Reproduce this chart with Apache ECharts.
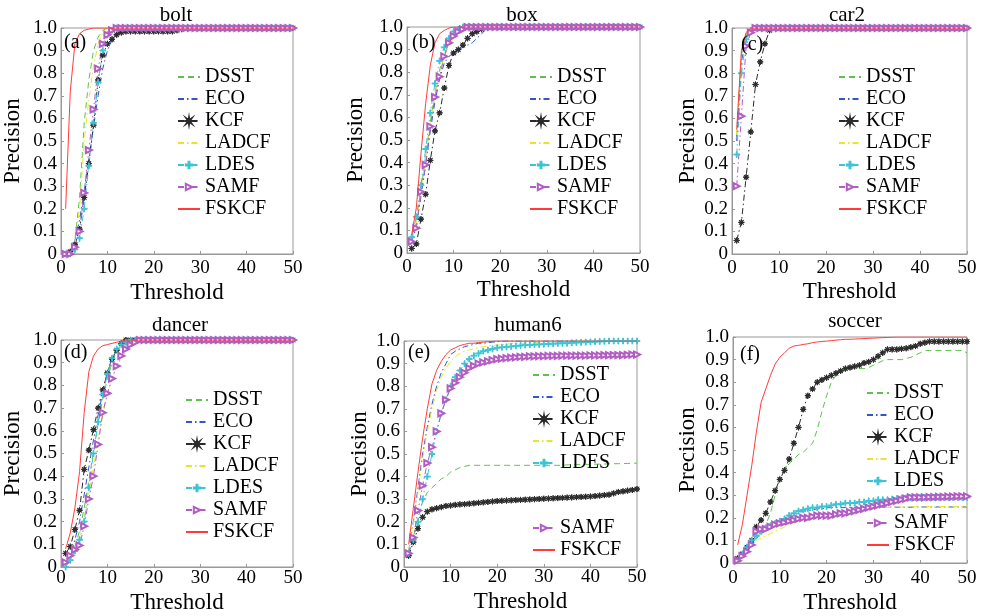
<!DOCTYPE html>
<html>
<head>
<meta charset="utf-8">
<script src="https://cdn.jsdelivr.net/npm/echarts@6/dist/echarts.min.js"></script>
<style>
  html, body { margin: 0; padding: 0; background: #fff; }
  #main { width: 984px; height: 616px; }
</style>
</head>
<body>
<div id="main"></div>
<script>
// location error threshold (pixels)
var thresholds = [1,2,3,4,5,6,7,8,9,10,11,12,13,14,15,16,17,18,19,20,21,22,23,24,25,26,27,28,29,30,31,32,33,34,35,36,37,38,39,40,41,42,43,44,45,46,47,48,49,50];
var names = ['DSST', 'ECO', 'KCF', 'LADCF', 'LDES', 'SAMF', 'FSKCF'];
var titles = ['bolt', 'box', 'car2', 'dancer', 'human6', 'soccer'];
var tags = ['(a)', '(b)', '(c)', '(d)', '(e)', '(f)'];

// ---- bolt ----
var boltDSST = [0,0.01,0.06,0.25,0.58,0.77,0.9,0.96,0.99,1, 1,1,1,1,1,1,1,1,1,1, 1,1,1,1,1,1,1,1,1,1, 1,1,1,1,1,1,1,1,1,1, 1,1,1,1,1,1,1,1,1,1];
var boltECO = [0,0.02,0.06,0.15,0.28,0.42,0.56,0.7,0.82,0.9, 0.95,0.98,0.99,1,1,1,1,1,1,1, 1,1,1,1,1,1,1,1,1,1, 1,1,1,1,1,1,1,1,1,1, 1,1,1,1,1,1,1,1,1,1];
var boltKCF = [0,0.01,0.04,0.11,0.25,0.4,0.57,0.77,0.88,0.93, 0.95,0.97,0.98,0.985,0.985,0.985,0.985,0.985,0.985,0.985, 0.985,0.985,0.985,0.985,0.99,0.995,1,1,1,1, 1,1,1,1,1,1,1,1,1,1, 1,1,1,1,1,1,1,1,1,1];
var boltLADCF = [0,0.01,0.05,0.2,0.5,0.68,0.83,0.93,0.98,1, 1,1,1,1,1,1,1,1,1,1, 1,1,1,1,1,1,1,1,1,1, 1,1,1,1,1,1,1,1,1,1, 1,1,1,1,1,1,1,1,1,1];
var boltLDES = [0,0,0.02,0.07,0.2,0.39,0.58,0.76,0.9,0.97, 0.99,1,1,1,1,1,1,1,1,1, 1,1,1,1,1,1,1,1,1,1, 1,1,1,1,1,1,1,1,1,1, 1,1,1,1,1,1,1,1,1,1];
var boltSAMF = [0,0,0.03,0.1,0.27,0.46,0.64,0.82,0.93,0.97, 0.99,1,1,1,1,1,1,1,1,1, 1,1,1,1,1,1,1,1,1,1, 1,1,1,1,1,1,1,1,1,1, 1,1,1,1,1,1,1,1,1,1];
var boltFSKCF = [0.2,0.72,0.93,0.975,0.99,0.995,1,1,1,1, 1,1,1,1,1,1,1,1,1,1, 1,1,1,1,1,1,1,1,1,1, 1,1,1,1,1,1,1,1,1,1, 1,1,1,1,1,1,1,1,1,1];

// ---- box ----
var boxDSST = [0.06,0.14,0.28,0.43,0.58,0.71,0.81,0.88,0.93,0.96, 0.98,0.99,1,1,1,1,1,1,1,1, 1,1,1,1,1,1,1,1,1,1, 1,1,1,1,1,1,1,1,1,1, 1,1,1,1,1,1,1,1,1,1];
var boxECO = [0.05,0.12,0.25,0.39,0.54,0.67,0.77,0.84,0.87,0.885, 0.9,0.91,0.92,0.93,0.95,0.97,0.99,1,1,1, 1,1,1,1,1,1,1,1,1,1, 1,1,1,1,1,1,1,1,1,1, 1,1,1,1,1,1,1,1,1,1];
var boxKCF = [0.02,0.04,0.15,0.26,0.41,0.54,0.62,0.73,0.83,0.885, 0.9,0.92,0.95,0.97,0.98,0.99,1,1,1,1, 1,1,1,1,1,1,1,1,1,1, 1,1,1,1,1,1,1,1,1,1, 1,1,1,1,1,1,1,1,1,1];
var boxLADCF = [0.06,0.13,0.27,0.42,0.57,0.7,0.8,0.87,0.92,0.95, 0.97,0.98,0.99,1,1,1,1,1,1,1, 1,1,1,1,1,1,1,1,1,1, 1,1,1,1,1,1,1,1,1,1, 1,1,1,1,1,1,1,1,1,1];
var boxLDES = [0.07,0.16,0.3,0.46,0.62,0.75,0.85,0.91,0.95,0.98, 0.99,1,1,1,1,1,1,1,1,1, 1,1,1,1,1,1,1,1,1,1, 1,1,1,1,1,1,1,1,1,1, 1,1,1,1,1,1,1,1,1,1];
var boxSAMF = [0.05,0.11,0.27,0.39,0.56,0.69,0.78,0.87,0.93,0.96, 0.98,0.99,1,1,1,1,1,1,1,1, 1,1,1,1,1,1,1,1,1,1, 1,1,1,1,1,1,1,1,1,1, 1,1,1,1,1,1,1,1,1,1];
var boxFSKCF = [0.08,0.2,0.44,0.66,0.83,0.93,0.97,0.985,0.995,1, 1,1,1,1,1,1,1,1,1,1, 1,1,1,1,1,1,1,1,1,1, 1,1,1,1,1,1,1,1,1,1, 1,1,1,1,1,1,1,1,1,1];

// ---- car2 ----
var carDSST = [0.52,0.88,0.97,1,1,1,1,1,1,1, 1,1,1,1,1,1,1,1,1,1, 1,1,1,1,1,1,1,1,1,1, 1,1,1,1,1,1,1,1,1,1, 1,1,1,1,1,1,1,1,1,1];
var carECO = [0.5,0.85,0.96,0.99,1,1,1,1,1,1, 1,1,1,1,1,1,1,1,1,1, 1,1,1,1,1,1,1,1,1,1, 1,1,1,1,1,1,1,1,1,1, 1,1,1,1,1,1,1,1,1,1];
var carKCF = [0.06,0.14,0.34,0.54,0.75,0.85,0.93,0.99,1,1, 1,1,1,1,1,1,1,1,1,1, 1,1,1,1,1,1,1,1,1,1, 1,1,1,1,1,1,1,1,1,1, 1,1,1,1,1,1,1,1,1,1];
var carLADCF = [0.53,0.89,0.97,1,1,1,1,1,1,1, 1,1,1,1,1,1,1,1,1,1, 1,1,1,1,1,1,1,1,1,1, 1,1,1,1,1,1,1,1,1,1, 1,1,1,1,1,1,1,1,1,1];
var carLDES = [0.44,0.8,0.95,0.99,1,1,1,1,1,1, 1,1,1,1,1,1,1,1,1,1, 1,1,1,1,1,1,1,1,1,1, 1,1,1,1,1,1,1,1,1,1, 1,1,1,1,1,1,1,1,1,1];
var carSAMF = [0.3,0.61,0.92,0.98,1,1,1,1,1,1, 1,1,1,1,1,1,1,1,1,1, 1,1,1,1,1,1,1,1,1,1, 1,1,1,1,1,1,1,1,1,1, 1,1,1,1,1,1,1,1,1,1];
var carFSKCF = [0.55,0.9,0.98,1,1,1,1,1,1,1, 1,1,1,1,1,1,1,1,1,1, 1,1,1,1,1,1,1,1,1,1, 1,1,1,1,1,1,1,1,1,1, 1,1,1,1,1,1,1,1,1,1];

// ---- dancer ----
var danDSST = [0.01,0.04,0.09,0.16,0.26,0.38,0.51,0.63,0.74,0.83, 0.9,0.95,0.98,0.99,1,1,1,1,1,1, 1,1,1,1,1,1,1,1,1,1, 1,1,1,1,1,1,1,1,1,1, 1,1,1,1,1,1,1,1,1,1];
var danECO = [0.02,0.05,0.12,0.2,0.32,0.44,0.56,0.67,0.77,0.86, 0.92,0.96,0.98,0.99,1,1,1,1,1,1, 1,1,1,1,1,1,1,1,1,1, 1,1,1,1,1,1,1,1,1,1, 1,1,1,1,1,1,1,1,1,1];
var danKCF = [0.06,0.09,0.165,0.25,0.43,0.515,0.605,0.7,0.78,0.855, 0.915,0.955,0.985,1,1,1,1,1,1,1, 1,1,1,1,1,1,1,1,1,1, 1,1,1,1,1,1,1,1,1,1, 1,1,1,1,1,1,1,1,1,1];
var danLADCF = [0.01,0.03,0.07,0.13,0.22,0.32,0.44,0.56,0.67,0.76, 0.83,0.88,0.92,0.95,0.97,0.98,0.99,1,1,1, 1,1,1,1,1,1,1,1,1,1, 1,1,1,1,1,1,1,1,1,1, 1,1,1,1,1,1,1,1,1,1];
var danLDES = [0,0.03,0.07,0.12,0.2,0.35,0.5,0.64,0.76,0.85, 0.92,0.96,0.98,0.99,1,1,1,1,1,1, 1,1,1,1,1,1,1,1,1,1, 1,1,1,1,1,1,1,1,1,1, 1,1,1,1,1,1,1,1,1,1];
var danSAMF = [0.02,0.05,0.077,0.095,0.18,0.3,0.4,0.54,0.68,0.765, 0.83,0.885,0.93,0.96,0.98,0.99,1,1,1,1, 1,1,1,1,1,1,1,1,1,1, 1,1,1,1,1,1,1,1,1,1, 1,1,1,1,1,1,1,1,1,1];
var danFSKCF = [0.08,0.15,0.26,0.42,0.68,0.86,0.93,0.96,0.975,0.98, 0.985,0.99,0.995,1,1,1,1,1,1,1, 1,1,1,1,1,1,1,1,1,1, 1,1,1,1,1,1,1,1,1,1, 1,1,1,1,1,1,1,1,1,1];

// ---- human6 ----
var humDSST = [0.06,0.13,0.22,0.29,0.33,0.35,0.37,0.39,0.4,0.42, 0.43,0.44,0.445,0.45,0.45,0.45,0.45,0.45,0.45,0.45, 0.45,0.45,0.45,0.45,0.45,0.45,0.45,0.45,0.45,0.45, 0.45,0.45,0.45,0.45,0.452,0.452,0.453,0.453,0.454,0.454, 0.455,0.455,0.456,0.456,0.457,0.457,0.458,0.458,0.459,0.46];
var humECO = [0.07,0.2,0.35,0.5,0.62,0.72,0.8,0.86,0.9,0.94, 0.955,0.965,0.975,0.98,0.985,0.99,0.99,0.993,0.995,0.997, 1,1,1,1,1,1,1,1,1,1, 1,1,1,1,1,1,1,1,1,1, 1,1,1,1,1,1,1,1,1,1];
var humKCF = [0.05,0.11,0.17,0.22,0.245,0.255,0.26,0.265,0.27,0.272, 0.275,0.277,0.278,0.28,0.282,0.284,0.286,0.288,0.29,0.292, 0.293,0.294,0.295,0.296,0.297,0.298,0.299,0.3,0.301,0.302, 0.303,0.304,0.305,0.306,0.307,0.308,0.309,0.31,0.311,0.312, 0.314,0.316,0.318,0.32,0.326,0.332,0.335,0.338,0.341,0.345];
var humLADCF = [0.07,0.19,0.33,0.48,0.6,0.7,0.78,0.84,0.88,0.91, 0.93,0.945,0.955,0.96,0.965,0.97,0.975,0.978,0.98,0.982, 0.984,0.986,0.988,0.99,0.99,0.99,0.992,0.993,0.994,0.995, 0.996,0.997,0.998,0.999,1,1,1,1,1,1, 1,1,1,1,1,1,1,1,1,1];
var humLDES = [0.06,0.12,0.2,0.3,0.4,0.5,0.6,0.68,0.74,0.8, 0.84,0.87,0.9,0.92,0.935,0.945,0.955,0.96,0.965,0.97, 0.972,0.974,0.976,0.978,0.98,0.982,0.983,0.984,0.985,0.986, 0.987,0.988,0.989,0.99,0.99,0.992,0.993,0.994,0.995,0.996, 0.997,0.998,0.999,1,1,1,1,1,1,1];
var humSAMF = [0.06,0.13,0.25,0.36,0.46,0.53,0.6,0.68,0.74,0.79, 0.815,0.84,0.86,0.88,0.89,0.9,0.905,0.91,0.915,0.92, 0.922,0.924,0.926,0.928,0.93,0.93,0.932,0.932,0.933,0.933, 0.934,0.934,0.934,0.935,0.935,0.935,0.935,0.935,0.935,0.936, 0.936,0.936,0.937,0.937,0.938,0.938,0.938,0.939,0.94,0.94];
var humFSKCF = [0.1,0.26,0.42,0.57,0.7,0.81,0.87,0.91,0.94,0.96, 0.97,0.98,0.985,0.99,0.99,0.993,0.995,0.997,0.998,1, 1,1,1,1,1,1,1,1,1,1, 1,1,1,1,1,1,1,1,1,1, 1,1,1,1,1,1,1,1,1,1];

// ---- soccer ----
var socDSST = [0.01,0.03,0.06,0.09,0.11,0.14,0.17,0.22,0.3,0.37, 0.41,0.44,0.46,0.48,0.49,0.51,0.53,0.59,0.67,0.74, 0.8,0.83,0.845,0.855,0.86,0.86,0.86,0.86,0.865,0.875, 0.885,0.895,0.9,0.9,0.9,0.9,0.905,0.91,0.92,0.93, 0.94,0.94,0.94,0.94,0.94,0.94,0.94,0.94,0.94,0.93];
var socECO = [0.01,0.03,0.06,0.09,0.11,0.13,0.145,0.16,0.17,0.18, 0.19,0.2,0.21,0.22,0.23,0.23,0.235,0.24,0.24,0.245, 0.245,0.245,0.245,0.245,0.245,0.245,0.245,0.245,0.247,0.247, 0.247,0.247,0.247,0.247,0.247,0.247,0.247,0.247,0.248,0.248, 0.248,0.248,0.248,0.248,0.248,0.248,0.248,0.248,0.248,0.248];
var socKCF = [0.02,0.04,0.07,0.1,0.16,0.19,0.22,0.27,0.32,0.37, 0.41,0.46,0.53,0.6,0.68,0.74,0.77,0.8,0.81,0.82, 0.83,0.84,0.85,0.86,0.865,0.87,0.875,0.885,0.89,0.9, 0.915,0.93,0.945,0.945,0.945,0.948,0.95,0.955,0.96,0.97, 0.975,0.98,0.98,0.98,0.98,0.98,0.98,0.98,0.98,0.98];
var socLADCF = [0.01,0.03,0.05,0.08,0.1,0.11,0.12,0.13,0.14,0.15, 0.16,0.17,0.18,0.185,0.19,0.195,0.2,0.205,0.21,0.215, 0.217,0.22,0.222,0.225,0.23,0.232,0.235,0.24,0.242,0.245, 0.245,0.246,0.246,0.247,0.247,0.248,0.248,0.248,0.249,0.249, 0.249,0.25,0.25,0.25,0.25,0.25,0.25,0.25,0.25,0.25];
var socLDES = [0.01,0.04,0.07,0.1,0.12,0.14,0.155,0.165,0.175,0.185, 0.195,0.21,0.22,0.23,0.235,0.24,0.245,0.245,0.25,0.25, 0.255,0.26,0.26,0.265,0.265,0.265,0.27,0.27,0.275,0.275, 0.28,0.28,0.28,0.283,0.285,0.287,0.288,0.289,0.29,0.29, 0.29,0.29,0.29,0.29,0.29,0.29,0.29,0.29,0.29,0.29];
var socSAMF = [0.01,0.03,0.05,0.08,0.14,0.15,0.15,0.16,0.17,0.175, 0.18,0.185,0.19,0.195,0.2,0.2,0.205,0.21,0.21,0.21, 0.21,0.215,0.22,0.22,0.225,0.23,0.235,0.24,0.245,0.25, 0.255,0.26,0.265,0.27,0.275,0.28,0.285,0.29,0.29,0.29, 0.29,0.292,0.292,0.293,0.293,0.294,0.294,0.295,0.295,0.295];
var socFSKCF = [0.08,0.17,0.3,0.43,0.58,0.71,0.77,0.83,0.88,0.91, 0.93,0.95,0.96,0.963,0.967,0.97,0.975,0.978,0.98,0.982, 0.984,0.986,0.988,0.99,0.99,0.991,0.992,0.993,0.994,0.995, 0.996,0.997,0.998,0.999,1,1,1,1,1,1, 1,1,1,1,1,1,1,1,1,1];

var panelData = [
  [boltDSST, boltECO, boltKCF, boltLADCF, boltLDES, boltSAMF, boltFSKCF],
  [boxDSST, boxECO, boxKCF, boxLADCF, boxLDES, boxSAMF, boxFSKCF],
  [carDSST, carECO, carKCF, carLADCF, carLDES, carSAMF, carFSKCF],
  [danDSST, danECO, danKCF, danLADCF, danLDES, danSAMF, danFSKCF],
  [humDSST, humECO, humKCF, humLADCF, humLDES, humSAMF, humFSKCF],
  [socDSST, socECO, socKCF, socLADCF, socLDES, socSAMF, socFSKCF]
];

// layout of the six sub plots
var layout = [
  {left: 61,  top: 28,  width: 232, height: 226, xMargin: 5, xGap: 27, yGap: 37, title: [176, 15],  tag: [64, 43],  legend: [[177, 67, 0]]},
  {left: 407, top: 27,  width: 233, height: 226, xMargin: 5, xGap: 25, yGap: 40, title: [522, 15],  tag: [412, 43], legend: [[529, 67, 0]]},
  {left: 732, top: 28,  width: 235, height: 226, xMargin: 5, xGap: 26, yGap: 33, title: [847, 15],  tag: [741, 45], legend: [[838, 67, 0]]},
  {left: 61,  top: 340, width: 232, height: 227, xMargin: 2, xGap: 24, yGap: 37, title: [180, 325], tag: [64, 353], legend: [[185, 390, 0]]},
  {left: 404, top: 341, width: 233, height: 226, xMargin: 1, xGap: 23, yGap: 33, title: [528, 325], tag: [408, 353], legend: [[532, 365, 1], [532, 518, 2]]},
  {left: 733, top: 337, width: 234, height: 226, xMargin: 6, xGap: 28, yGap: 34, title: [855, 321], tag: [740, 355], legend: [[866, 383, 1], [866, 513, 2]]}
];

var FONT = 'Liberation Serif';
var starPath = 'path://M10,5L6.48,5.61L8.54,8.54L5.61,6.48L5,10L4.39,6.48L1.46,8.54L3.52,5.61L0,5L3.52,4.39L1.46,1.46L4.39,3.52L5,0L5.61,3.52L8.54,1.46L6.48,4.39Z';
var plusPath = 'path://M4.3,0H5.7V4.3H10V5.7H5.7V10H4.3V5.7H0V4.3H4.3Z';

var styles = {
  DSST:  {color: '#5cc24c', type: [6, 4], symbol: 'none'},
  ECO:   {color: '#3456c8', type: [6, 3, 1.5, 3], symbol: 'none'},
  KCF:   {color: '#2a2a2a', type: [6, 3, 1.5, 3], symbol: starPath, size: 6},
  LADCF: {color: '#e6e62a', type: [6, 3, 1.5, 3], symbol: 'none'},
  LDES:  {color: '#3cc4d6', type: [6, 3, 1.5, 3], symbol: plusPath, size: 6},
  SAMF:  {color: '#b25cc4', type: [6, 3, 1.5, 3], symbol: 'emptyTriangle', size: 6, rotate: -90},
  FSKCF: {color: '#ff3c3c', type: 'solid', symbol: 'none'}
};

function txt(size) {
  return {color: '#000', fontFamily: FONT, fontSize: size, fontWeight: 'normal'};
}

var grids = [], xAxes = [], yAxes = [], series = [], legends = [], graphics = [];

function legendItem(n) {
  // series drawn without markers get a plain line in the legend
  if (styles[n].symbol === 'none') return {name: n, itemStyle: {opacity: 0}};
  return {name: n};
}

layout.forEach(function (p, i) {
  grids.push({left: p.left, top: p.top, width: p.width, height: p.height,
    show: true, borderColor: '#999', borderWidth: 1, backgroundColor: '#fff'});
  xAxes.push({
    gridIndex: i, type: 'value', min: 0, max: 50, interval: 10,
    axisLine: {show: true, lineStyle: {color: '#999'}},
    axisTick: {show: true, inside: true, length: 3, lineStyle: {color: '#999'}},
    axisLabel: Object.assign(txt(19), {margin: p.xMargin}),
    splitLine: {show: false},
    name: 'Threshold', nameLocation: 'middle', nameGap: p.xGap,
    nameTextStyle: txt(23)
  });
  yAxes.push({
    gridIndex: i, type: 'value', min: 0, max: 1, interval: 0.1,
    axisLine: {show: true, lineStyle: {color: '#999'}},
    axisTick: {show: true, inside: true, length: 3, lineStyle: {color: '#999'}},
    axisLabel: Object.assign(txt(19), {margin: 4,
      formatter: function (v) { return v === 0 ? '0' : v.toFixed(1); }}),
    splitLine: {show: false},
    name: 'Precision', nameLocation: 'middle', nameGap: p.yGap,
    nameTextStyle: txt(23)
  });

  names.forEach(function (n, k) {
    var s = styles[n];
    series.push({
      type: 'line', name: n, xAxisIndex: i, yAxisIndex: i,
      data: thresholds.map(function (t, j) { return [t, panelData[i][k][j]]; }),
      symbol: s.symbol, symbolSize: s.size || 4, symbolRotate: s.rotate || 0,
      showSymbol: s.symbol !== 'none',
      lineStyle: {color: s.color, width: 1, type: s.type},
      itemStyle: {color: s.color, borderColor: s.color, borderWidth: 1},
      z: n === 'FSKCF' ? 4 : 3,
      animation: false
    });
  });

  p.legend.forEach(function (lg) {
    var items = lg[2] === 1 ? names.slice(0, 5) : (lg[2] === 2 ? names.slice(5) : names);
    legends.push({
      orient: 'vertical', left: lg[0], top: lg[1], padding: 0,
      itemWidth: 22, itemHeight: 8, itemGap: 2, selectedMode: false,
      data: items.map(legendItem),
      textStyle: Object.assign(txt(20), {lineHeight: 20})
    });
  });

  graphics.push({
    type: 'text', x: p.title[0], y: p.title[1], z: 100,
    style: {text: titles[i], fill: '#000', font: '21px "Liberation Serif"',
      align: 'center', verticalAlign: 'middle', textAlign: 'center', textVerticalAlign: 'middle'}
  });
  graphics.push({
    type: 'text', x: p.tag[0], y: p.tag[1], z: 100,
    style: {text: tags[i], fill: '#000', font: '20px "Liberation Serif"',
      align: 'left', verticalAlign: 'middle', textAlign: 'left', textVerticalAlign: 'middle'}
  });
});

var chart = echarts.init(document.getElementById('main'), null, {renderer: 'canvas'});
chart.setOption({
  backgroundColor: '#fff',
  animation: false,
  textStyle: {fontFamily: FONT},
  grid: grids,
  xAxis: xAxes,
  yAxis: yAxes,
  legend: legends,
  graphic: graphics,
  series: series
});
</script>
</body>
</html>
